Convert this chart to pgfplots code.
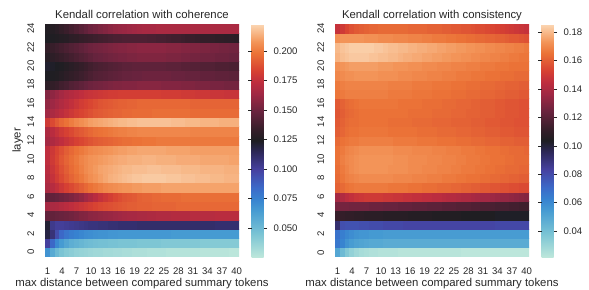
\documentclass[border=0pt]{standalone}
\usepackage{pgfplots}
\pgfplotsset{compat=1.18}
\usepackage{fontspec}
\setmainfont{Liberation Sans}
\definecolor{txt}{gray}{0.15}
\pgfplotsset{
  colormap={icefire}{
    rgb255(0cm)=(189,231,219)
    rgb255(4cm)=(122,196,212)
    rgb255(8cm)=(70,155,210)
    rgb255(10cm)=(55,130,208)
    rgb255(12cm)=(60,105,200)
    rgb255(15cm)=(70,65,160)
    rgb255(18cm)=(45,40,90)
    rgb255(20cm)=(30,30,34)
    rgb255(22cm)=(55,30,42)
    rgb255(25cm)=(105,35,62)
    rgb255(28cm)=(160,40,68)
    rgb255(30cm)=(190,45,62)
    rgb255(32cm)=(215,65,50)
    rgb255(35cm)=(235,115,55)
    rgb255(37cm)=(243,150,90)
    rgb255(38cm)=(246,172,120)
    rgb255(40cm)=(251,215,180)
  },
  hm/.style={
    scale only axis, width=194bp, height=233bp, anchor=south west,
    xmin=0.5, xmax=40.5, ymin=-0.5, ymax=24.5,
    axis line style={draw=none},
    xtick={1,4,...,40}, ytick={0,2,...,24},
    major tick length=0pt,
    /pgf/number format/assume math mode=true,
    tick label style={text=txt, font=\fontsize{9.6}{11}\selectfont},
    xticklabel style={anchor=base, yshift=-17.3bp},
    yticklabel style={anchor=base, rotate=90, yshift=11bp},
    title style={at={(axis description cs:0.5,1)}, anchor=base, yshift=0bp, text=txt},
    xlabel style={at={(axis description cs:0.5,0)}, anchor=base, yshift=-29.7bp, text=txt},
    ylabel style={at={(axis description cs:0,0.5)}, anchor=base, yshift=24.3bp, text=txt},
    xlabel={max distance between compared summary tokens},
    colorbar,
  },
  cb/.style={
    at={(parent axis.north east)}, anchor=north west, xshift=4bp,
    scale only axis, width=12bp, height=233bp,
    axis line style={draw=none},
    tick align=outside, major tick length=3.5bp,
    ytick style={draw=txt, line width=0.6bp},
    yticklabel style={text=txt, xshift=3bp, font=\fontsize{9.6}{11}\selectfont},
    /pgf/number format/assume math mode=true,
  },
}
\begin{document}
\begin{tikzpicture}[font=\fontsize{11.4}{13.7}\selectfont]
\useasboundingbox (0,0) rectangle (589bp,290bp);
\begin{axis}[hm, at={(45bp,33bp)},
  title={Kendall correlation with coherence}, ylabel={layer},
  point meta min=0.0255, point meta max=0.223,
  colorbar style={cb, ytick={0.05,0.075,0.1,0.125,0.15,0.175,0.2},
    yticklabels={0.050,0.075,0.100,0.125,0.150,0.175,0.200}},
]
\addplot[matrix plot*, mesh/cols=40, point meta=explicit] table[header=false, row sep=\\,
  x expr={\coordindex+1-40*floor((\coordindex+0.5)/40)}, y expr={floor((\coordindex+0.5)/40)}, meta index=0] {
0.068\\0.058\\0.050\\0.045\\0.042\\0.040\\0.038\\0.037\\0.036\\0.035\\0.034\\0.034\\0.033\\0.033\\0.032\\0.032\\0.031\\0.031\\0.030\\0.030\\0.030\\0.029\\0.029\\0.029\\0.029\\0.028\\0.028\\0.028\\0.028\\0.028\\0.028\\0.028\\0.027\\0.027\\0.027\\0.027\\0.027\\0.027\\0.026\\0.026\\
0.100\\0.085\\0.072\\0.065\\0.060\\0.056\\0.054\\0.052\\0.050\\0.049\\0.048\\0.047\\0.047\\0.046\\0.046\\0.045\\0.045\\0.045\\0.045\\0.044\\0.044\\0.044\\0.044\\0.044\\0.043\\0.043\\0.043\\0.043\\0.043\\0.043\\0.043\\0.043\\0.042\\0.042\\0.042\\0.042\\0.042\\0.042\\0.042\\0.042\\
0.118\\0.108\\0.095\\0.085\\0.080\\0.077\\0.075\\0.073\\0.071\\0.070\\0.069\\0.068\\0.068\\0.067\\0.067\\0.066\\0.066\\0.066\\0.066\\0.066\\0.066\\0.066\\0.066\\0.066\\0.066\\0.066\\0.065\\0.065\\0.065\\0.065\\0.065\\0.065\\0.065\\0.065\\0.065\\0.065\\0.065\\0.065\\0.065\\0.065\\
0.121\\0.104\\0.101\\0.101\\0.102\\0.103\\0.104\\0.105\\0.106\\0.107\\0.107\\0.108\\0.108\\0.109\\0.109\\0.110\\0.110\\0.110\\0.110\\0.111\\0.111\\0.111\\0.111\\0.111\\0.111\\0.111\\0.111\\0.111\\0.111\\0.111\\0.111\\0.111\\0.111\\0.111\\0.111\\0.110\\0.110\\0.110\\0.110\\0.110\\
0.147\\0.147\\0.148\\0.149\\0.150\\0.151\\0.153\\0.155\\0.156\\0.158\\0.159\\0.160\\0.161\\0.162\\0.163\\0.164\\0.165\\0.166\\0.166\\0.167\\0.167\\0.168\\0.168\\0.169\\0.169\\0.169\\0.170\\0.170\\0.170\\0.170\\0.171\\0.171\\0.171\\0.171\\0.171\\0.172\\0.172\\0.172\\0.172\\0.172\\
0.166\\0.167\\0.168\\0.170\\0.172\\0.174\\0.176\\0.178\\0.180\\0.182\\0.184\\0.186\\0.187\\0.188\\0.189\\0.190\\0.191\\0.192\\0.192\\0.193\\0.193\\0.193\\0.194\\0.194\\0.194\\0.194\\0.194\\0.195\\0.195\\0.195\\0.195\\0.195\\0.195\\0.195\\0.195\\0.195\\0.195\\0.195\\0.195\\0.195\\
0.146\\0.147\\0.148\\0.150\\0.152\\0.154\\0.157\\0.160\\0.164\\0.168\\0.172\\0.176\\0.179\\0.182\\0.185\\0.187\\0.189\\0.190\\0.191\\0.193\\0.194\\0.194\\0.195\\0.195\\0.196\\0.196\\0.196\\0.196\\0.197\\0.197\\0.197\\0.197\\0.197\\0.197\\0.197\\0.197\\0.197\\0.197\\0.197\\0.197\\
0.167\\0.171\\0.175\\0.179\\0.183\\0.186\\0.189\\0.192\\0.195\\0.198\\0.200\\0.202\\0.204\\0.205\\0.206\\0.207\\0.208\\0.208\\0.209\\0.209\\0.210\\0.210\\0.210\\0.210\\0.211\\0.211\\0.211\\0.211\\0.211\\0.211\\0.211\\0.211\\0.211\\0.211\\0.211\\0.211\\0.211\\0.211\\0.211\\0.211\\
0.170\\0.176\\0.181\\0.186\\0.190\\0.194\\0.197\\0.200\\0.203\\0.206\\0.208\\0.210\\0.212\\0.214\\0.215\\0.216\\0.217\\0.218\\0.219\\0.219\\0.220\\0.220\\0.220\\0.220\\0.220\\0.219\\0.219\\0.219\\0.218\\0.218\\0.218\\0.217\\0.217\\0.217\\0.216\\0.216\\0.216\\0.215\\0.215\\0.215\\
0.172\\0.178\\0.183\\0.188\\0.192\\0.196\\0.199\\0.202\\0.205\\0.207\\0.209\\0.211\\0.212\\0.213\\0.214\\0.215\\0.216\\0.216\\0.217\\0.217\\0.217\\0.218\\0.218\\0.218\\0.217\\0.217\\0.217\\0.217\\0.216\\0.216\\0.216\\0.216\\0.215\\0.215\\0.215\\0.215\\0.215\\0.214\\0.214\\0.214\\
0.174\\0.180\\0.185\\0.190\\0.194\\0.197\\0.200\\0.203\\0.205\\0.207\\0.208\\0.209\\0.210\\0.211\\0.212\\0.213\\0.213\\0.214\\0.214\\0.214\\0.215\\0.215\\0.215\\0.214\\0.214\\0.214\\0.214\\0.213\\0.213\\0.213\\0.213\\0.213\\0.212\\0.212\\0.212\\0.212\\0.212\\0.212\\0.211\\0.211\\
0.174\\0.179\\0.184\\0.188\\0.192\\0.195\\0.198\\0.200\\0.202\\0.204\\0.205\\0.206\\0.207\\0.208\\0.209\\0.210\\0.210\\0.211\\0.211\\0.212\\0.212\\0.212\\0.212\\0.212\\0.212\\0.211\\0.211\\0.211\\0.211\\0.211\\0.210\\0.210\\0.210\\0.210\\0.210\\0.210\\0.210\\0.210\\0.210\\0.210\\
0.165\\0.168\\0.171\\0.174\\0.177\\0.180\\0.183\\0.185\\0.187\\0.189\\0.191\\0.192\\0.193\\0.194\\0.195\\0.196\\0.197\\0.197\\0.198\\0.198\\0.199\\0.199\\0.199\\0.200\\0.200\\0.200\\0.200\\0.200\\0.200\\0.200\\0.200\\0.200\\0.200\\0.200\\0.200\\0.200\\0.200\\0.200\\0.200\\0.200\\
0.168\\0.172\\0.176\\0.180\\0.183\\0.186\\0.189\\0.191\\0.193\\0.195\\0.197\\0.198\\0.199\\0.200\\0.201\\0.202\\0.202\\0.203\\0.203\\0.204\\0.204\\0.204\\0.204\\0.204\\0.204\\0.204\\0.204\\0.204\\0.204\\0.204\\0.203\\0.203\\0.203\\0.203\\0.203\\0.203\\0.203\\0.203\\0.203\\0.203\\
0.180\\0.186\\0.191\\0.195\\0.198\\0.201\\0.204\\0.206\\0.208\\0.210\\0.211\\0.212\\0.213\\0.214\\0.215\\0.216\\0.216\\0.217\\0.217\\0.218\\0.218\\0.218\\0.218\\0.218\\0.218\\0.218\\0.217\\0.217\\0.217\\0.216\\0.216\\0.216\\0.215\\0.215\\0.215\\0.215\\0.214\\0.214\\0.214\\0.214\\
0.164\\0.167\\0.170\\0.173\\0.176\\0.179\\0.182\\0.184\\0.186\\0.188\\0.190\\0.191\\0.192\\0.193\\0.194\\0.194\\0.195\\0.195\\0.196\\0.196\\0.196\\0.196\\0.197\\0.197\\0.197\\0.197\\0.197\\0.197\\0.197\\0.197\\0.196\\0.196\\0.196\\0.196\\0.196\\0.196\\0.196\\0.196\\0.196\\0.196\\
0.160\\0.163\\0.166\\0.169\\0.172\\0.175\\0.178\\0.181\\0.183\\0.185\\0.187\\0.189\\0.190\\0.191\\0.192\\0.193\\0.193\\0.194\\0.194\\0.195\\0.195\\0.195\\0.195\\0.195\\0.195\\0.195\\0.195\\0.195\\0.195\\0.195\\0.194\\0.194\\0.194\\0.194\\0.194\\0.194\\0.194\\0.194\\0.194\\0.194\\
0.156\\0.159\\0.162\\0.165\\0.168\\0.170\\0.172\\0.174\\0.176\\0.177\\0.178\\0.179\\0.180\\0.181\\0.181\\0.182\\0.182\\0.182\\0.182\\0.182\\0.182\\0.182\\0.182\\0.182\\0.181\\0.181\\0.181\\0.181\\0.180\\0.180\\0.180\\0.179\\0.179\\0.179\\0.178\\0.178\\0.178\\0.177\\0.177\\0.177\\
0.130\\0.132\\0.134\\0.137\\0.139\\0.142\\0.144\\0.146\\0.148\\0.150\\0.151\\0.152\\0.153\\0.154\\0.155\\0.155\\0.156\\0.156\\0.156\\0.157\\0.157\\0.157\\0.157\\0.157\\0.156\\0.156\\0.156\\0.156\\0.155\\0.155\\0.155\\0.154\\0.154\\0.154\\0.153\\0.153\\0.153\\0.152\\0.152\\0.152\\
0.124\\0.125\\0.126\\0.128\\0.130\\0.132\\0.134\\0.136\\0.138\\0.140\\0.142\\0.143\\0.144\\0.145\\0.146\\0.147\\0.148\\0.148\\0.149\\0.149\\0.150\\0.150\\0.150\\0.150\\0.150\\0.150\\0.149\\0.149\\0.149\\0.148\\0.148\\0.148\\0.147\\0.147\\0.147\\0.146\\0.146\\0.146\\0.145\\0.145\\
0.122\\0.123\\0.124\\0.125\\0.127\\0.129\\0.131\\0.133\\0.135\\0.137\\0.139\\0.140\\0.141\\0.142\\0.143\\0.144\\0.145\\0.145\\0.146\\0.146\\0.146\\0.146\\0.146\\0.146\\0.146\\0.145\\0.145\\0.145\\0.144\\0.144\\0.143\\0.143\\0.142\\0.142\\0.142\\0.141\\0.141\\0.141\\0.140\\0.140\\
0.128\\0.130\\0.132\\0.134\\0.136\\0.138\\0.140\\0.142\\0.144\\0.146\\0.148\\0.149\\0.150\\0.151\\0.152\\0.153\\0.153\\0.154\\0.154\\0.155\\0.155\\0.155\\0.155\\0.155\\0.155\\0.154\\0.154\\0.154\\0.153\\0.153\\0.152\\0.152\\0.151\\0.151\\0.151\\0.150\\0.150\\0.150\\0.149\\0.149\\
0.132\\0.134\\0.136\\0.138\\0.140\\0.142\\0.144\\0.146\\0.148\\0.150\\0.151\\0.152\\0.153\\0.154\\0.155\\0.156\\0.156\\0.157\\0.157\\0.158\\0.158\\0.158\\0.158\\0.158\\0.158\\0.157\\0.157\\0.157\\0.156\\0.156\\0.155\\0.155\\0.154\\0.154\\0.153\\0.153\\0.152\\0.152\\0.151\\0.151\\
0.124\\0.125\\0.126\\0.127\\0.128\\0.130\\0.131\\0.133\\0.134\\0.135\\0.136\\0.137\\0.138\\0.139\\0.140\\0.140\\0.141\\0.141\\0.141\\0.141\\0.141\\0.140\\0.140\\0.139\\0.139\\0.138\\0.137\\0.137\\0.136\\0.135\\0.135\\0.134\\0.133\\0.133\\0.132\\0.131\\0.131\\0.130\\0.130\\0.129\\
0.126\\0.127\\0.129\\0.132\\0.135\\0.138\\0.141\\0.144\\0.147\\0.150\\0.152\\0.154\\0.156\\0.158\\0.160\\0.161\\0.162\\0.163\\0.164\\0.165\\0.166\\0.166\\0.166\\0.167\\0.167\\0.167\\0.167\\0.167\\0.167\\0.167\\0.167\\0.167\\0.167\\0.167\\0.167\\0.167\\0.167\\0.167\\0.167\\0.167\\
};
\end{axis}
\begin{axis}[hm, at={(335bp,33bp)},
  title={Kendall correlation with consistency},
  point meta min=0.0217, point meta max=0.1858,
  colorbar style={cb, ytick={0.04,0.06,0.08,0.1,0.12,0.14,0.16,0.18},
    yticklabels={0.04,0.06,0.08,0.10,0.12,0.14,0.16,0.18}},
]
\addplot[matrix plot*, mesh/cols=40, point meta=explicit] table[header=false, row sep=\\,
  x expr={\coordindex+1-40*floor((\coordindex+0.5)/40)}, y expr={floor((\coordindex+0.5)/40)}, meta index=0] {
0.050\\0.042\\0.036\\0.032\\0.029\\0.027\\0.026\\0.025\\0.025\\0.024\\0.024\\0.024\\0.024\\0.023\\0.023\\0.023\\0.023\\0.023\\0.023\\0.023\\0.023\\0.023\\0.023\\0.023\\0.023\\0.023\\0.022\\0.022\\0.022\\0.022\\0.022\\0.022\\0.022\\0.022\\0.022\\0.022\\0.022\\0.022\\0.022\\0.022\\
0.066\\0.062\\0.057\\0.054\\0.052\\0.051\\0.050\\0.049\\0.049\\0.049\\0.048\\0.048\\0.048\\0.048\\0.048\\0.048\\0.048\\0.048\\0.048\\0.048\\0.048\\0.048\\0.048\\0.048\\0.048\\0.048\\0.048\\0.048\\0.048\\0.048\\0.048\\0.048\\0.048\\0.048\\0.048\\0.048\\0.048\\0.048\\0.048\\0.048\\
0.068\\0.064\\0.061\\0.059\\0.057\\0.056\\0.056\\0.055\\0.055\\0.055\\0.054\\0.054\\0.054\\0.054\\0.054\\0.054\\0.054\\0.054\\0.054\\0.054\\0.054\\0.054\\0.054\\0.054\\0.054\\0.054\\0.054\\0.054\\0.054\\0.054\\0.054\\0.054\\0.054\\0.054\\0.054\\0.054\\0.054\\0.054\\0.054\\0.054\\
0.092\\0.079\\0.078\\0.078\\0.078\\0.079\\0.079\\0.080\\0.080\\0.080\\0.081\\0.081\\0.081\\0.081\\0.082\\0.082\\0.082\\0.082\\0.082\\0.082\\0.082\\0.082\\0.082\\0.082\\0.082\\0.082\\0.082\\0.082\\0.082\\0.082\\0.082\\0.082\\0.082\\0.081\\0.081\\0.081\\0.081\\0.081\\0.081\\0.081\\
0.112\\0.111\\0.110\\0.110\\0.109\\0.109\\0.108\\0.108\\0.108\\0.108\\0.107\\0.107\\0.107\\0.107\\0.107\\0.106\\0.106\\0.106\\0.106\\0.106\\0.105\\0.105\\0.105\\0.105\\0.105\\0.105\\0.104\\0.104\\0.104\\0.104\\0.104\\0.104\\0.104\\0.103\\0.103\\0.103\\0.103\\0.103\\0.103\\0.103\\
0.127\\0.127\\0.127\\0.126\\0.126\\0.126\\0.126\\0.125\\0.125\\0.125\\0.124\\0.124\\0.124\\0.123\\0.123\\0.123\\0.122\\0.122\\0.122\\0.121\\0.121\\0.121\\0.120\\0.120\\0.120\\0.119\\0.119\\0.119\\0.118\\0.118\\0.117\\0.117\\0.117\\0.116\\0.116\\0.116\\0.115\\0.115\\0.114\\0.114\\
0.138\\0.141\\0.144\\0.146\\0.148\\0.149\\0.150\\0.150\\0.150\\0.150\\0.149\\0.149\\0.148\\0.148\\0.147\\0.147\\0.146\\0.146\\0.145\\0.145\\0.144\\0.144\\0.143\\0.142\\0.142\\0.141\\0.140\\0.140\\0.139\\0.138\\0.137\\0.137\\0.136\\0.135\\0.134\\0.134\\0.133\\0.132\\0.131\\0.130\\
0.161\\0.163\\0.165\\0.166\\0.167\\0.167\\0.167\\0.167\\0.167\\0.167\\0.167\\0.166\\0.166\\0.166\\0.166\\0.165\\0.165\\0.165\\0.164\\0.164\\0.164\\0.163\\0.163\\0.163\\0.162\\0.162\\0.161\\0.161\\0.160\\0.160\\0.159\\0.159\\0.158\\0.158\\0.157\\0.157\\0.156\\0.156\\0.155\\0.155\\
0.163\\0.166\\0.168\\0.169\\0.170\\0.171\\0.171\\0.171\\0.171\\0.171\\0.171\\0.171\\0.170\\0.170\\0.170\\0.170\\0.169\\0.169\\0.169\\0.168\\0.168\\0.168\\0.167\\0.167\\0.167\\0.166\\0.166\\0.165\\0.165\\0.165\\0.164\\0.164\\0.163\\0.163\\0.162\\0.162\\0.161\\0.161\\0.160\\0.160\\
0.164\\0.167\\0.169\\0.171\\0.172\\0.173\\0.173\\0.173\\0.173\\0.173\\0.173\\0.172\\0.172\\0.172\\0.172\\0.171\\0.171\\0.171\\0.170\\0.170\\0.170\\0.169\\0.169\\0.169\\0.168\\0.168\\0.167\\0.167\\0.167\\0.166\\0.166\\0.165\\0.165\\0.164\\0.164\\0.163\\0.163\\0.163\\0.162\\0.162\\
0.165\\0.168\\0.170\\0.171\\0.172\\0.173\\0.173\\0.173\\0.173\\0.173\\0.173\\0.173\\0.172\\0.172\\0.172\\0.171\\0.171\\0.171\\0.171\\0.170\\0.170\\0.170\\0.169\\0.169\\0.169\\0.168\\0.168\\0.167\\0.167\\0.167\\0.166\\0.166\\0.165\\0.165\\0.165\\0.164\\0.164\\0.163\\0.163\\0.163\\
0.165\\0.167\\0.169\\0.170\\0.171\\0.172\\0.172\\0.172\\0.172\\0.172\\0.172\\0.172\\0.171\\0.171\\0.171\\0.171\\0.170\\0.170\\0.170\\0.170\\0.169\\0.169\\0.169\\0.168\\0.168\\0.168\\0.167\\0.167\\0.167\\0.166\\0.166\\0.165\\0.165\\0.165\\0.164\\0.164\\0.163\\0.163\\0.163\\0.162\\
0.163\\0.165\\0.166\\0.167\\0.167\\0.168\\0.168\\0.168\\0.168\\0.168\\0.168\\0.168\\0.167\\0.167\\0.167\\0.167\\0.167\\0.166\\0.166\\0.166\\0.166\\0.165\\0.165\\0.165\\0.165\\0.164\\0.164\\0.164\\0.163\\0.163\\0.163\\0.162\\0.162\\0.162\\0.161\\0.161\\0.161\\0.160\\0.160\\0.160\\
0.160\\0.162\\0.164\\0.165\\0.165\\0.166\\0.166\\0.166\\0.166\\0.166\\0.166\\0.165\\0.165\\0.165\\0.165\\0.165\\0.165\\0.164\\0.164\\0.164\\0.164\\0.163\\0.163\\0.163\\0.163\\0.162\\0.162\\0.162\\0.161\\0.161\\0.161\\0.160\\0.160\\0.160\\0.159\\0.159\\0.159\\0.158\\0.158\\0.158\\
0.159\\0.161\\0.163\\0.164\\0.164\\0.165\\0.165\\0.165\\0.165\\0.165\\0.165\\0.164\\0.164\\0.164\\0.164\\0.164\\0.163\\0.163\\0.163\\0.163\\0.162\\0.162\\0.162\\0.162\\0.161\\0.161\\0.161\\0.161\\0.160\\0.160\\0.160\\0.159\\0.159\\0.159\\0.158\\0.158\\0.158\\0.157\\0.157\\0.157\\
0.158\\0.160\\0.162\\0.163\\0.164\\0.165\\0.165\\0.165\\0.165\\0.165\\0.165\\0.165\\0.165\\0.165\\0.165\\0.164\\0.164\\0.164\\0.164\\0.164\\0.163\\0.163\\0.163\\0.163\\0.162\\0.162\\0.162\\0.161\\0.161\\0.161\\0.160\\0.160\\0.160\\0.159\\0.159\\0.158\\0.158\\0.158\\0.157\\0.157\\
0.159\\0.161\\0.163\\0.164\\0.165\\0.166\\0.166\\0.166\\0.166\\0.166\\0.166\\0.166\\0.166\\0.165\\0.165\\0.165\\0.165\\0.165\\0.164\\0.164\\0.164\\0.164\\0.163\\0.163\\0.163\\0.162\\0.162\\0.162\\0.161\\0.161\\0.160\\0.160\\0.160\\0.159\\0.159\\0.158\\0.158\\0.158\\0.157\\0.157\\
0.166\\0.167\\0.168\\0.168\\0.168\\0.168\\0.168\\0.168\\0.168\\0.168\\0.168\\0.167\\0.167\\0.167\\0.167\\0.167\\0.166\\0.166\\0.166\\0.166\\0.165\\0.165\\0.165\\0.165\\0.164\\0.164\\0.164\\0.163\\0.163\\0.163\\0.162\\0.162\\0.162\\0.161\\0.161\\0.160\\0.160\\0.160\\0.159\\0.159\\
0.167\\0.168\\0.169\\0.169\\0.169\\0.169\\0.169\\0.169\\0.169\\0.169\\0.169\\0.168\\0.168\\0.168\\0.168\\0.168\\0.167\\0.167\\0.167\\0.167\\0.166\\0.166\\0.166\\0.166\\0.165\\0.165\\0.165\\0.164\\0.164\\0.164\\0.163\\0.163\\0.163\\0.162\\0.162\\0.161\\0.161\\0.161\\0.160\\0.160\\
0.170\\0.171\\0.172\\0.172\\0.173\\0.173\\0.173\\0.173\\0.173\\0.172\\0.172\\0.172\\0.172\\0.171\\0.171\\0.171\\0.170\\0.170\\0.170\\0.169\\0.169\\0.169\\0.168\\0.168\\0.168\\0.167\\0.167\\0.167\\0.166\\0.166\\0.166\\0.165\\0.165\\0.165\\0.164\\0.164\\0.164\\0.163\\0.163\\0.163\\
0.172\\0.173\\0.174\\0.175\\0.175\\0.175\\0.175\\0.175\\0.175\\0.174\\0.174\\0.174\\0.173\\0.173\\0.173\\0.172\\0.172\\0.172\\0.171\\0.171\\0.171\\0.170\\0.170\\0.170\\0.169\\0.169\\0.169\\0.168\\0.168\\0.168\\0.167\\0.167\\0.167\\0.166\\0.166\\0.166\\0.165\\0.165\\0.165\\0.165\\
0.179\\0.181\\0.182\\0.183\\0.183\\0.183\\0.183\\0.182\\0.182\\0.181\\0.181\\0.180\\0.180\\0.179\\0.178\\0.178\\0.177\\0.177\\0.176\\0.176\\0.175\\0.175\\0.174\\0.174\\0.173\\0.173\\0.172\\0.172\\0.171\\0.171\\0.170\\0.170\\0.169\\0.169\\0.168\\0.168\\0.167\\0.167\\0.166\\0.166\\
0.180\\0.182\\0.183\\0.184\\0.184\\0.184\\0.184\\0.184\\0.183\\0.183\\0.182\\0.181\\0.181\\0.180\\0.180\\0.179\\0.179\\0.178\\0.178\\0.177\\0.177\\0.176\\0.176\\0.175\\0.175\\0.174\\0.174\\0.173\\0.173\\0.172\\0.172\\0.171\\0.171\\0.170\\0.170\\0.169\\0.169\\0.168\\0.168\\0.167\\
0.172\\0.173\\0.173\\0.173\\0.173\\0.173\\0.172\\0.172\\0.172\\0.171\\0.171\\0.171\\0.170\\0.170\\0.170\\0.169\\0.169\\0.169\\0.168\\0.168\\0.167\\0.167\\0.167\\0.166\\0.166\\0.165\\0.165\\0.164\\0.164\\0.163\\0.163\\0.162\\0.162\\0.161\\0.161\\0.160\\0.159\\0.159\\0.158\\0.157\\
0.147\\0.150\\0.154\\0.157\\0.159\\0.160\\0.161\\0.162\\0.162\\0.163\\0.163\\0.163\\0.163\\0.163\\0.163\\0.162\\0.162\\0.162\\0.162\\0.161\\0.161\\0.161\\0.160\\0.160\\0.159\\0.159\\0.158\\0.158\\0.157\\0.156\\0.156\\0.155\\0.154\\0.153\\0.152\\0.151\\0.150\\0.149\\0.148\\0.147\\
};
\end{axis}
\end{tikzpicture}
\end{document}
